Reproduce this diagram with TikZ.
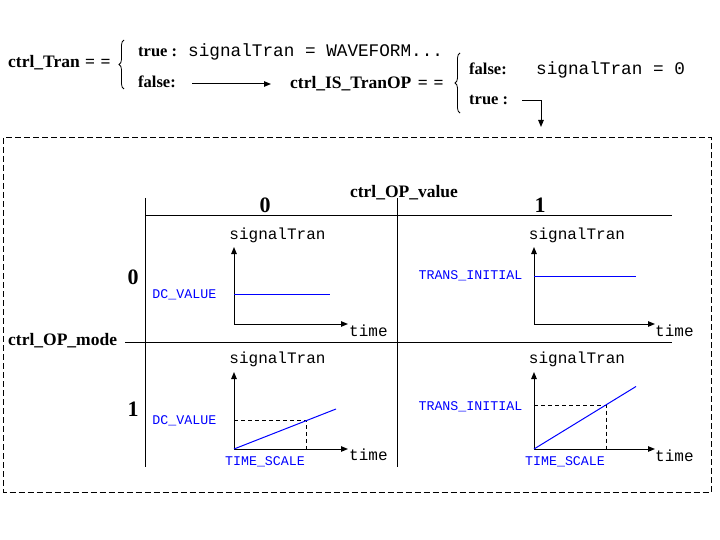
\documentclass[tikz,border=0pt]{standalone}
\usepackage{fontspec}
\setmainfont{Liberation Serif}
\setmonofont{Liberation Mono}
\usetikzlibrary{arrows.meta,decorations.pathreplacing}
\begin{document}
\begin{tikzpicture}[x=1pt,y=-1pt,
  lbl/.style={inner sep=0pt,font=\fontsize{17.5}{20}\selectfont\bfseries},
  sm/.style={inner sep=0pt,font=\fontsize{16.5}{18}\selectfont\bfseries},
  big/.style={inner sep=0pt,font=\fontsize{22}{24}\selectfont\bfseries},
  monotop/.style={inner sep=0pt,font=\fontsize{17.7}{20}\selectfont\ttfamily},
  mono/.style={inner sep=0pt,font=\fontsize{16}{18}\selectfont\ttfamily},
  bluetxt/.style={inner sep=0pt,text=blue,font=\fontsize{13.3}{15}\selectfont\ttfamily},
  arr/.style={line width=1pt,-{Triangle[length=7pt,width=5.5pt]}},
  grid/.style={line width=1pt},
  sig/.style={blue,line width=1pt},
  guide/.style={line width=0.8pt,dash pattern=on 4pt off 3pt},
  br/.style={line width=0.8pt,decorate,decoration={brace,amplitude=5pt,mirror}}
]
\useasboundingbox (0,0) rectangle (720,540);
% ---- top decision text
\node[lbl,anchor=base west] (tran) at (8,68) {ctrl\_Tran\hspace{1pt} =\hspace{1pt} =};
\draw[br] (124,40) -- (124,89);
\node[sm,anchor=base west] (t1) at (138,57) {true :};
\node[monotop,anchor=base west] (wave) at (188,57) {signalTran = WAVEFORM...};
\node[sm,anchor=base west] (f1) at (138,88) {false:};
\node[lbl,anchor=base west] (isop) at (290,89) {ctrl\_IS\_TranOP\hspace{2pt} =\hspace{1.5pt} =};
\coordinate (a1s) at (192,84);
\coordinate (a1e) at (271,84);
\draw[arr] (a1s) -- (a1e);
\draw[br] (460,53) -- (460,113);
\node[sm,anchor=base west] (f2) at (469,75) {false:};
\node[monotop,anchor=base west] (zero) at (536,75) {signalTran = 0};
\node[sm,anchor=base west] (t2) at (469,105) {true :};
\coordinate (a2s) at (522,101);
\coordinate (a2e) at (541,127);
\draw[arr] (a2s) -| (a2e);
% ---- dashed frame
\draw[line width=1pt,dash pattern=on 6pt off 3pt] (3.5,138) rectangle (711,492);
% ---- table
\node[lbl,anchor=base] (opv) at (404,197) {ctrl\_OP\_value};
\node[big,anchor=base] (c0) at (265,212) {0};
\node[big,anchor=base] (c1) at (540,212) {1};
\node[big,anchor=base] (r0) at (133,284) {0};
\node[big,anchor=base] (r1) at (133,416) {1};
\node[lbl,anchor=base west] (opm) at (8,345) {ctrl\_OP\_mode};
\coordinate (h1a) at (145,216); \coordinate (h1b) at (672,216);
\coordinate (h2a) at (125,342); \coordinate (h2b) at (672,342);
\coordinate (v1a) at (145,198); \coordinate (v1b) at (145,467);
\coordinate (v2a) at (397,198); \coordinate (v2b) at (397,467);
\draw[grid] (h1a) -- (h1b);
\draw[grid] (h2a) -- (h2b);
\draw[grid] (v1a) -- (v1b);
\draw[grid] (v2a) -- (v2b);
% ---- cell 00
\coordinate (o00) at (234,324);
\coordinate (y00) at (234,247);
\coordinate (x00) at (348,324);
\draw[arr] (o00) -- (y00);
\draw[arr] (o00) -- (x00);
\node[mono,anchor=base] (s00) at (277.5,240) {signalTran};
\node[mono,anchor=base west] (t00) at (349,336) {time};
\node[bluetxt,anchor=base east] (d00) at (216.5,298) {DC\_VALUE};
\coordinate (l00a) at (234,294); \coordinate (l00b) at (330,294);
\draw[sig] (l00a) -- (l00b);
% ---- cell 01
\coordinate (o01) at (534,324);
\coordinate (y01) at (534,247);
\coordinate (x01) at (655,324);
\draw[arr] (o01) -- (y01);
\draw[arr] (o01) -- (x01);
\node[mono,anchor=base] (s01) at (577,240) {signalTran};
\node[mono,anchor=base west] (t01) at (655,336) {time};
\node[bluetxt,anchor=base east] (d01) at (522.5,279.5) {TRANS\_INITIAL};
\coordinate (l01a) at (534,276); \coordinate (l01b) at (636,276);
\draw[sig] (l01a) -- (l01b);
% ---- cell 10
\coordinate (o10) at (234,449);
\coordinate (y10) at (234,372);
\coordinate (x10) at (348,449);
\draw[arr] (o10) -- (y10);
\draw[arr] (o10) -- (x10);
\node[mono,anchor=base] (s10) at (277.5,363) {signalTran};
\node[mono,anchor=base west] (t10) at (349,460) {time};
\node[bluetxt,anchor=base east] (d10) at (216.5,424) {DC\_VALUE};
\node[bluetxt,anchor=base] (ts10) at (265,465) {TIME\_SCALE};
\coordinate (k10) at (306,420);
\coordinate (k10x) at (306,449);
\coordinate (k10y) at (234,420);
\draw[guide] (k10y) -- (k10) -- (k10x);
\coordinate (e10) at (336,409);
\draw[sig] (o10) -- (e10);
% ---- cell 11
\coordinate (o11) at (534,449);
\coordinate (y11) at (534,372);
\coordinate (x11) at (655,449);
\draw[arr] (o11) -- (y11);
\draw[arr] (o11) -- (x11);
\node[mono,anchor=base] (s11) at (577,363) {signalTran};
\node[mono,anchor=base west] (t11) at (655,461) {time};
\node[bluetxt,anchor=base east] (d11) at (522.5,410) {TRANS\_INITIAL};
\node[bluetxt,anchor=base] (ts11) at (565,465) {TIME\_SCALE};
\coordinate (k11) at (606,405.5);
\coordinate (k11x) at (606,449);
\coordinate (k11y) at (534,405.5);
\draw[guide] (k11y) -- (k11) -- (k11x);
\coordinate (e11) at (636,386.5);
\draw[sig] (o11) -- (e11);
\end{tikzpicture}
\end{document}
